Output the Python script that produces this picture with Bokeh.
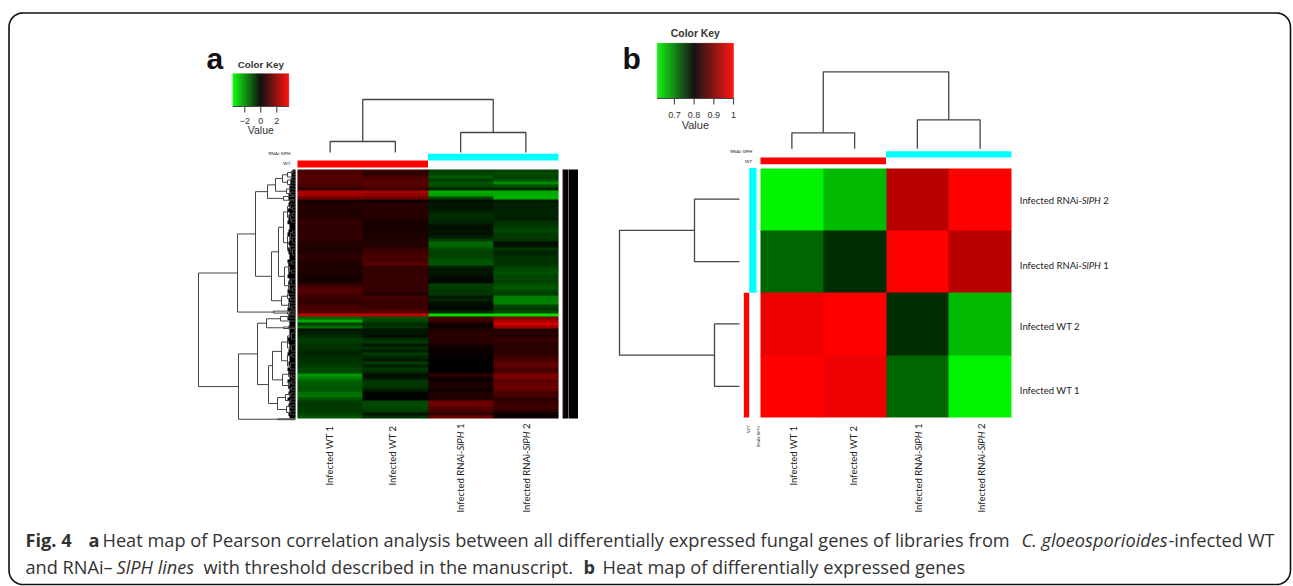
import numpy as np
from bokeh.plotting import figure
from bokeh.models import LinearColorMapper, ColumnDataSource, Range1d
from bokeh.core.properties import value
from bokeh.transform import transform
from bokeh.embed import file_html
from bokeh.resources import INLINE

# ---------- data ----------
# panel a: expression per gene row, in key units x 73
A_WT1 = [70,80,85,85,80,75,45,175,165,115,25,35,35,35,30,30,40,50,50,45,45,50,50,45,35,35,30,30,45,50,35,30,30,30,30,25,20,25,55,75,85,75,60,55,50,70,70,80,190,-100,-170,-60,-110,-20,-30,-40,-60,-60,-50,-50,-40,-35,-45,-50,-50,-60,-70,-70,-150,-130,-95,-90,-85,-85,-110,-115,-80,-60,-55,-60,-55,-70,-85]
A_WT2 = [55,45,70,85,90,85,65,165,145,115,15,40,38,40,42,40,30,25,25,25,25,28,28,30,35,35,55,60,75,70,70,90,55,50,55,50,60,50,50,55,50,35,65,65,55,55,65,90,190,-80,-70,-45,-50,-20,-20,-15,-40,-60,-25,-50,-30,-60,-40,-25,-60,-30,-55,-40,-15,-20,-50,-55,-50,-30,-5,-5,-5,-70,-75,-70,-60,-20,-50]
A_RNAI1 = [-60,-70,-90,-60,-85,-75,-40,-175,-160,-70,-15,-25,-20,-25,-40,-45,-40,-35,-20,-15,-20,-20,-30,-60,-105,-100,-75,-65,-65,-70,-85,-85,-35,-20,-20,-15,-8,-10,-65,-60,-55,-55,-25,-35,-15,-10,-8,-40,-220,70,60,15,15,30,40,40,40,45,20,15,10,8,5,0,0,5,0,5,50,15,20,25,30,15,30,35,30,110,110,85,70,50,115]
A_RNAI2 = [-65,-75,-65,-85,-140,-80,-40,-170,-175,-175,-25,-35,-30,-35,-35,-35,-30,-50,-55,-65,-70,-60,-60,-50,-15,-20,-55,-35,-40,-50,-50,-50,-65,-75,-80,-70,-70,-65,-80,-90,-70,-60,-125,-130,-130,-70,-60,-75,-220,130,170,215,150,35,40,35,55,50,40,40,45,45,60,70,90,95,70,80,125,120,90,100,110,95,70,75,45,50,60,60,45,10,15]
# panel a row tree: (height, child, child); a number is a gene row
TREE_A_ROWS = (97,
    (58,
        (40,
            (28, (20, (13, (8, (4, 0, 1), 2), (8, 3, (5, 4, 5))), (9, 6, (5, 7, 8))), (12, 8.5, (5, 9.5, 10))),
            (24,
                (17, (12, (8, (5, 11, (3, 12, 13)), (5, (3, 14, 15), (4, 16, 17))), (8, (5, (3, 20, 21), (3, 22, 24)), (5, 25, (3, 26, 28)))),
                     (11, (7, (4, 30, 31), (4, 33, 34)), (7, (4, 36, 38), (3, 39, 40)))),
                (14, (8, 41, (5, 42, 43)), (7, 44, (4, 45, 46))))),
        (22, 46.7, (8, 47, 47.7))),
    (57,
        (38,
            (29, (15, (7, 48, 49), 50), (12, 52, 52.5)),
            (27,
                (23, (14, (8, (4, 54, 56), (4, 58, 60)), (8, (4, 61, 62), (5, 64, 66))), (13, (7, 67, (4, 68, 69)), (7, (4, 70, 71), (4, 72, 73)))),
                (18, (10, (5, 74, 75), (5, 76, 77)), (9, (5, 78, 79), (5, 80, 81))))),
        (18, 82.6, 82.9)))
LEAF_DEPTH_A = [3,4,4,5,5,6,6,6,7,7,6,7,6,8,6,7,7,8,6,6,7,8,6,6,7,6,8,7,6,6,8,7,6,6,7,8,6,7,6,6,8,7,6,7,6,6,8,6,7,8,6,6,7,6,6,6,8,7,6,6,7,8,6,6,7,6,8,7,6,6,8,6,7,6,7,6,8,6,7,6,6,7,6]

COLUMNS_B = ["Infected WT 1", "Infected WT 2", "Infected RNAi-SlPH 1", "Infected RNAi-SlPH 2"]
# panel b: Pearson correlation, rows from the top: RNAi 2, RNAi 1, WT 2, WT 1
B_RNAI2 = [0.61, 0.655, 0.945, 1.0]
B_RNAI1 = [0.72, 0.765, 1.0, 0.945]
B_WT2 = [0.985, 1.0, 0.765, 0.655]
B_WT1 = [1.0, 0.985, 0.72, 0.61]
TREE_COLS_HEIGHT_A = [53, 11, 20]   # root, WT, RNAi
TREE_COLS_HEIGHT_B = [77, 16, 29]
TREE_ROWS_HEIGHT_B = [120, 45, 25]  # root, RNAi, WT
KEY_TICKS_A = [-2, 0, 2]
KEY_TICKS_B = [0.7, 0.8, 0.9, 1.0]
KEY_LABELS_B = ["0.7", "0.8", "0.9", "1"]

INK = "#444444"
SANS = "Liberation Sans"
LAB = "Lato"
CAP = "Open Sans"

p = figure(width=1293, height=586, output_backend="svg", toolbar_location=None,
           x_range=Range1d(0, 1293), y_range=Range1d(586, 0), min_border=0,
           background_fill_color="white", border_fill_color="white")
p.axis.visible = False
p.grid.visible = False
p.outline_line_color = None

def T(x, y, s, size, font=SANS, style="normal", align="left", base="middle", angle=0, color="#222222"):
    p.text([x], [y], text=[s], text_font=value(font), text_font_size=f"{size}px", text_font_style=style,
           text_align=align, text_baseline=base, angle=angle, text_color=color)

# frame
r = 14; L, R_, Tp, Bt = 8.5, 1290, 12.5, 584
t = np.linspace(0, np.pi / 2, 12)
fx = np.r_[L + r - r*np.cos(t), R_ - r + r*np.sin(t), R_ - r + r*np.cos(t), L + r - r*np.sin(t), L]
fy = np.r_[Tp + r - r*np.sin(t), Tp + r - r*np.cos(t), Bt - r + r*np.sin(t), Bt - r + r*np.cos(t), Tp + r]
p.line(fx, fy, line_color="#111111", line_width=1.6)

# colour map
def ramp():
    g = [f"#00{v:02x}00" for v in range(255, -1, -1)]
    rr = [f"#{v:02x}0000" for v in range(1, 256)]
    return g + rr
PAL = ramp()
map_a = LinearColorMapper(palette=PAL, low=-3.5, high=3.5)
map_b = LinearColorMapper(palette=PAL, low=0.6, high=1.0)

OVER = 0.7  # each cell slightly underlaps the next, so no hairline seams show
def heat(x0, x1, y0, y1, cols, mapper):
    ncol, nrow = len(cols), len(cols[0])
    xs = np.round(np.linspace(x0, x1, ncol + 1)); ys = np.round(np.linspace(y0, y1, nrow + 1))
    lft, rgt, top, bot, val = [], [], [], [], []
    for c, col in enumerate(cols):
        for i, v in enumerate(col):
            lft.append(xs[c]); rgt.append(xs[c+1] + (OVER if c < ncol - 1 else 0))
            top.append(ys[i]); bot.append(ys[i+1] + (OVER if i < nrow - 1 else 0)); val.append(v)
    src = ColumnDataSource(dict(l=lft, r=rgt, t=top, b=bot, v=val))
    tf = transform("v", mapper)
    p.quad(left="l", right="r", top="t", bottom="b", fill_color=tf, line_color=None, source=src)

# ---------- panel a ----------
AX0, AX1, AY0, AY1 = 297, 558, 169, 418
a_cols = [np.array(c) / 73 for c in (A_WT1, A_WT2, A_RNAI1, A_RNAI2)]
heat(AX0, AX1, AY0, AY1, a_cols, map_a)
nrow = len(A_WT1)
rowh = (AY1 - AY0) / nrow
ry = lambda i: AY0 + (i + 0.5) * rowh
LEAF_X = 295

# leaf comb
p.quad(left=[LEAF_X - d for d in LEAF_DEPTH_A], right=[LEAF_X] * nrow,
       top=[AY0 + i * rowh for i in range(nrow)], bottom=[AY0 + (i + 1) * rowh + (OVER if i < nrow - 1 else 0) for i in range(nrow)],
       fill_color="black", line_color=None)

xs_seg, ys_seg = [], []
def walk(node):
    if not isinstance(node, tuple):
        return LEAF_X, ry(node)
    h, a, b = node
    x = LEAF_X - h
    xa, ya = walk(a); xb, yb = walk(b)
    xs_seg.append([xa, x, x, xb]); ys_seg.append([ya, ya, yb, yb])
    return x, (ya + yb) / 2
walk(TREE_A_ROWS)
p.multi_line(xs_seg, ys_seg, line_color=INK, line_width=1.0)

def top_tree(cx, heights, y_leaf):
    h0, h1, h2 = heights
    yl, yr, yroot = y_leaf - h1, y_leaf - h2, y_leaf - h0
    p.multi_line([[cx[0], cx[0], cx[1], cx[1]], [cx[2], cx[2], cx[3], cx[3]],
                  [(cx[0]+cx[1])/2, (cx[0]+cx[1])/2, (cx[2]+cx[3])/2, (cx[2]+cx[3])/2]],
                 [[y_leaf, yl, yl, y_leaf], [y_leaf, yr, yr, y_leaf], [yl, yroot, yroot, yr]],
                 line_color=INK, line_width=1.3)

a_cx = [AX0 + (i + 0.5) * (AX1 - AX0) / 4 for i in range(4)]
top_tree(a_cx, TREE_COLS_HEIGHT_A, 152)

p.quad(left=[(AX0+AX1)/2], right=[AX1], top=[153.3], bottom=[160], fill_color="#00ffff", line_color=None)
p.quad(left=[AX0], right=[(AX0+AX1)/2], top=[160], bottom=[167], fill_color="#ff0000", line_color=None)
T(290, 152.7, "RNAi-SlPH", 4.6, align="right", font=LAB)
T(290, 162.7, "WT", 4.6, align="right", font=LAB)

# side bars
p.quad(left=[562.5, 568.3], right=[567.5, 577.5], top=[AY0, AY0], bottom=[AY1, AY1], fill_color="black", line_color=None)
p.quad(left=[562], right=[563], top=[AY0], bottom=[AY1], fill_color="#5a1010", line_color=None)
p.quad(left=[567.5], right=[568.3], top=[AY0], bottom=[AY1], fill_color="#555555", line_color=None)

def key(x0, x1, y0, y1, low, high, mapper, ticks, labels, tick_len, ty, vy, ky, vsize, ksize):
    edges = np.linspace(low, high, 113)
    mids = (edges[:-1] + edges[1:]) / 2
    sx = lambda v: x0 + (np.asarray(v, dtype=float) - low) / (high - low) * (x1 - x0)
    tf = transform("v", mapper)
    src = ColumnDataSource(dict(l=sx(edges[:-1]), r=sx(edges[1:]), v=mids, t=[y0]*112, b=[y1]*112))
    p.quad(left="l", right="r", top="t", bottom="b", fill_color=tf, line_color=tf, line_width=0.3, source=src)
    p.line([x0, x1], [y1, y1], line_color=INK, line_width=1.1)
    for v, s in zip(ticks, labels):
        p.line([sx(v), sx(v)], [y1, y1 + tick_len], line_color=INK, line_width=1.1)
        T(float(sx(v)), ty, s, 9, align="center", color="#333333")
    cx = (x0 + x1) / 2
    T(cx, vy, "Value", vsize, align="center", color="#333333")
    T(cx, ky, "Color Key", ksize, style="bold", align="center", color="#333333")

key(232.3, 288.3, 73.3, 106, -3.5, 3.5, map_a, KEY_TICKS_A, ["\u22122", "0", "2"], 6, 120, 129, 64, 10.5, 9.8)
T(206, 58, "a", 30, style="bold", base="alphabetic", color="#111111")

# ---------- panel b ----------
BX0, BX1, BY0, BY1 = 760, 1011, 167.5, 417
heat(BX0, BX1, BY0, BY1, [list(c) for c in zip(B_RNAI2, B_RNAI1, B_WT2, B_WT1)], map_b)
b_cx = [BX0 + (i + 0.5) * (BX1 - BX0) / 4 for i in range(4)]
top_tree(b_cx, TREE_COLS_HEIGHT_B, 148.3)
p.quad(left=[(BX0+BX1)/2], right=[BX1], top=[150.7], bottom=[157], fill_color="#00ffff", line_color=None)
p.quad(left=[BX0], right=[(BX0+BX1)/2], top=[157], bottom=[163.7], fill_color="#ff0000", line_color=None)
T(751.7, 150.7, "RNAi-SlPH", 4.6, align="right", font=LAB)
T(751.7, 160.5, "WT", 4.6, align="right", font=LAB)

b_cy = [BY0 + (i + 0.5) * (BY1 - BY0) / 4 for i in range(4)]
lx = 739
h0, h1, h2 = TREE_ROWS_HEIGHT_B
p.multi_line([[lx, lx-h1, lx-h1, lx], [lx, lx-h2, lx-h2, lx],
              [lx-h1, lx-h0, lx-h0, lx-h2]],
             [[b_cy[0], b_cy[0], b_cy[1], b_cy[1]], [b_cy[2], b_cy[2], b_cy[3], b_cy[3]],
              [(b_cy[0]+b_cy[1])/2, (b_cy[0]+b_cy[1])/2, (b_cy[2]+b_cy[3])/2, (b_cy[2]+b_cy[3])/2]],
             line_color=INK, line_width=1.3)
p.quad(left=[748.7], right=[756], top=[BY0], bottom=[(BY0+BY1)/2], fill_color="#00ffff", line_color=None)
p.quad(left=[743.3], right=[748.7], top=[(BY0+BY1)/2], bottom=[BY1], fill_color="#ff0000", line_color=None)
T(747, 425, "WT", 4.6, font=LAB, align="right", angle=np.pi/2)
T(757.7, 425, "RNAi-SlPH", 4.6, font=LAB, align="right", angle=np.pi/2)

key(656.7, 733, 42.7, 98, 0.6125, 1.0, map_b, KEY_TICKS_B, KEY_LABELS_B, 6, 114, 124, 33, 11, 10.4)
T(622, 58, "b", 30, style="bold", base="alphabetic", color="#111111")

# labels
LS = 9.5
OFF1, OFF2 = 62, 83.5
def hlabel(x, y, s):
    parts = s.split("SlPH")
    T(x, y, parts[0], LS, font=LAB)
    if len(parts) > 1:
        T(x + OFF1, y, "SlPH", LS, font=LAB, style="italic")
        T(x + OFF2, y, parts[1].strip(), LS, font=LAB)
def vlabel(x, ytop, s):
    if "SlPH" in s:
        head, tail = s.split("SlPH")
        bottom = ytop + 87
        T(x, bottom, head, LS, font=LAB, angle=np.pi/2)
        T(x, bottom - OFF1, "SlPH", LS, font=LAB, style="italic", angle=np.pi/2)
        T(x, bottom - OFF2, tail.strip(), LS, font=LAB, angle=np.pi/2)
    else:
        T(x, ytop, s, LS, font=LAB, align="right", angle=np.pi/2)

for x, s in zip([329, 391.7, 460, 526], COLUMNS_B):
    vlabel(x, 425, s)
for x, s in zip([792.7, 853, 917.7, 980.7], COLUMNS_B):
    vlabel(x, 425, s)
for y, s in zip([200, 265, 326, 390], COLUMNS_B[::-1]):
    hlabel(1019.3, y, s)

# caption
CS = 18.2
for x, y, s, st in [
    (25, 539, "Fig. 4", "bold"), (88, 539, "a", "bold"),
    (102, 539, "Heat map of Pearson correlation analysis between all differentially expressed fungal genes of libraries from", "normal"),
    (1021, 539, "C. gloeosporioides", "italic"), (1168, 539, "-infected WT", "normal"),
    (25, 566, "and RNAi\u2013", "normal"), (116, 566, "SlPH lines", "italic"),
    (203, 566, "with threshold described in the manuscript.", "normal"), (583, 566, "b", "bold"),
    (602, 566, "Heat map of differentially expressed genes", "normal")]:
    T(x, y, s, CS, font=CAP, style=st, color="#333333")

open("out.html", "w").write(file_html(p, INLINE))
